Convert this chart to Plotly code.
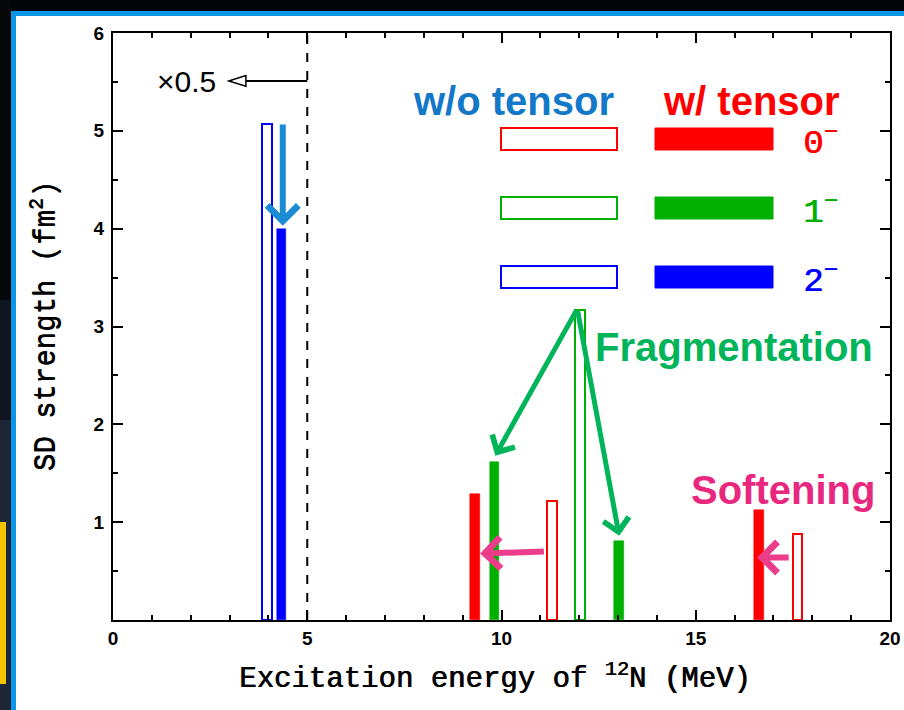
import plotly.graph_objects as go

# ---- data (excitation energy in MeV, SD strength in fm^2) ----
e0_wo = [11.30, 17.62]
s0_wo = [1.22, 0.88]
e0_w = [9.31, 16.62]
s0_w = [1.29, 1.12]
e1_wo = [12.02]
s1_wo = [3.17]
e1_w = [9.82, 13.02]
s1_w = [1.61, 0.81]
e2_wo = [3.96]
s2_wo = [5.07]
e2_w = [4.34]
s2_w = [4.00]

x_ticks = [0, 5, 10, 15, 20]
y_ticks = [1, 2, 3, 4, 5, 6]

RED = "#ff0000"
GREEN = "#00b000"
BLUE = "#0000ff"
BAR_W = 0.25

fig = go.Figure()


def add_open(x, y, col):
    fig.add_trace(go.Bar(x=x, y=y, width=BAR_W, marker=dict(color="white", line=dict(color=col, width=2)),
                         showlegend=False, hoverinfo="x+y"))


def add_fill(x, y, col):
    fig.add_trace(go.Bar(x=x, y=y, width=BAR_W, marker=dict(color=col, line=dict(color=col, width=0.5)),
                         showlegend=False, hoverinfo="x+y"))


add_open(e2_wo, s2_wo, BLUE)
add_fill(e2_w, s2_w, BLUE)
add_fill(e0_w, s0_w, RED)
add_fill(e1_w, s1_w, GREEN)
add_open(e0_wo, s0_wo, RED)
add_open(e1_wo, s1_wo, GREEN)

# ---- page geometry ----
L, R, T, B = 113, 14, 33, 90
W, H = 904, 710
pw, ph = W - L - R, H - T - B


def px(x):
    return (x - L) / pw


def py(y):
    return (H - B - y) / ph


shapes = []
# slide frame: dark top / left strips, blue border
shapes.append(dict(type="rect", xref="paper", yref="paper", x0=px(0), x1=px(W), y0=py(11), y1=py(0),
                   fillcolor="#030406", line=dict(width=0), layer="below"))
shapes.append(dict(type="rect", xref="paper", yref="paper", x0=px(0), x1=px(11), y0=py(H), y1=py(0),
                   fillcolor="#1c2636", line=dict(width=0), layer="below"))
shapes.append(dict(type="rect", xref="paper", yref="paper", x0=px(0), x1=px(11), y0=py(300), y1=py(0),
                   fillcolor="#05070b", line=dict(width=0), layer="below"))
shapes.append(dict(type="rect", xref="paper", yref="paper", x0=px(0), x1=px(11), y0=py(420), y1=py(300),
                   fillcolor="#101620", line=dict(width=0), layer="below"))
shapes.append(dict(type="rect", xref="paper", yref="paper", x0=px(0), x1=px(6), y0=py(684), y1=py(522),
                   fillcolor="#f5c400", line=dict(width=0), layer="below"))
shapes.append(dict(type="rect", xref="paper", yref="paper", x0=px(11), x1=px(W), y0=py(H), y1=py(11),
                   fillcolor="#0a96e6", line=dict(width=0), layer="below"))
shapes.append(dict(type="rect", xref="paper", yref="paper", x0=px(16), x1=px(W), y0=py(H), y1=py(16),
                   fillcolor="white", line=dict(width=0), layer="below"))

# dashed line at 5 MeV
shapes.append(dict(type="line", xref="x", yref="y", x0=5, x1=5, y0=0, y1=6,
                   line=dict(color="black", width=2, dash="dash")))
# x0.5 arrow
shapes.append(dict(type="line", xref="x", yref="y", x0=5, x1=3.38, y0=5.51, y1=5.51,
                   line=dict(color="black", width=2)))
shapes.append(dict(type="path", xref="x", yref="y",
                   path="M 2.98 5.51 L 3.42 5.565 L 3.42 5.455 Z",
                   fillcolor="white", line=dict(color="black", width=1.5)))

# legend boxes
rows = [(RED, 128, 150), (GREEN, 197, 219), (BLUE, 266, 288)]
for col, y0, y1 in rows:
    shapes.append(dict(type="rect", xref="paper", yref="paper", x0=px(501), x1=px(617), y0=py(y1), y1=py(y0),
                       fillcolor="white", line=dict(color=col, width=2)))
    shapes.append(dict(type="rect", xref="paper", yref="paper", x0=px(655), x1=px(773), y0=py(y1), y1=py(y0),
                       fillcolor=col, line=dict(color=col, width=1)))

ann = []
TXT = "Liberation Sans"
MONO = "Liberation Mono"


def label(text, x, y, size, color, family=TXT, weight="normal", angle=0, shadow="none"):
    ann.append(dict(text=text, xref="paper", yref="paper", x=px(x), y=py(y), showarrow=False,
                    xanchor="center", yanchor="middle", textangle=angle,
                    font=dict(family=family, size=size, color=color, weight=weight, shadow=shadow)))


label("w/o tensor", 513, 101, 40, "#1478c8", weight="bold")
label("w/ tensor", 751, 101, 40, "#ff0000", weight="bold")
for lab, col, yy in [("0", RED, 141), ("1", GREEN, 210), ("2", BLUE, 279)]:
    label(lab + "<sup>\u2212</sup>", 820, yy, 34, col, family=MONO, shadow="0.8px 0px 0px " + col)
label("\u00d70.5", 186, 82, 30, "black")
label("Fragmentation", 734, 347, 40, "#00b45a", weight="bold")
label("Softening", 783, 490, 40, "#e8287e", weight="bold")
# axis titles
label("Excitation energy of <sup>12</sup>N (MeV)", 495, 677, 29, "black", family=MONO,
      shadow="0.8px 0px 0px black")
label("SD strength (fm<sup>2</sup>)", 44, 326, 29, "black", family=MONO, angle=-90,
      shadow="0px 0.8px 0px black")

# arrows (head at x,y; tail at ax,ay)
arrows = [
    (4.37, 4.03, 4.37, 5.08, "#1a8ad4", 6),
    (9.84, 1.68, 11.95, 3.18, "#00b45a", 5),
    (13.03, 0.86, 11.95, 3.18, "#00b45a", 5),
    (9.45, 0.68, 11.13, 0.70, "#ec3c8c", 6),
    (16.58, 0.64, 17.43, 0.64, "#ec3c8c", 6),
]
for x, y, ax, ay, col, wd in arrows:
    ann.append(dict(x=x, y=y, ax=ax, ay=ay, xref="x", yref="y", axref="x", ayref="y", text="",
                    showarrow=True, arrowhead=4, arrowsize=1.0, arrowwidth=wd, arrowcolor=col, standoff=0))

axis_common = dict(showline=True, linecolor="black", linewidth=2, mirror="allticks", ticks="inside",
                   tickwidth=2, tickcolor="black", showgrid=False, zeroline=False, automargin=False,
                   tickfont=dict(family=TXT, size=19, color="black", weight="bold"))

fig.update_layout(
    width=W, height=H, margin=dict(l=L, r=R, t=T, b=B, autoexpand=False),
    paper_bgcolor="white", plot_bgcolor="white",
    barmode="overlay", bargap=0, showlegend=False,
    shapes=shapes, annotations=ann,
    xaxis=dict(range=[0, 20], tickvals=x_ticks, ticklen=10,
               minor=dict(dtick=1, ticklen=5, ticks="inside", tickwidth=2, tickcolor="black"),
               **axis_common),
    yaxis=dict(range=[0, 6], tickvals=y_ticks, ticklen=10, ticklabelstandoff=3,
               minor=dict(dtick=0.5, ticklen=5, ticks="inside", tickwidth=2, tickcolor="black"),
               **axis_common),
)

fig.write_html("out.html", config={"displayModeBar": False},
               post_script="document.body.style.margin='0px';document.body.style.overflow='hidden';")
